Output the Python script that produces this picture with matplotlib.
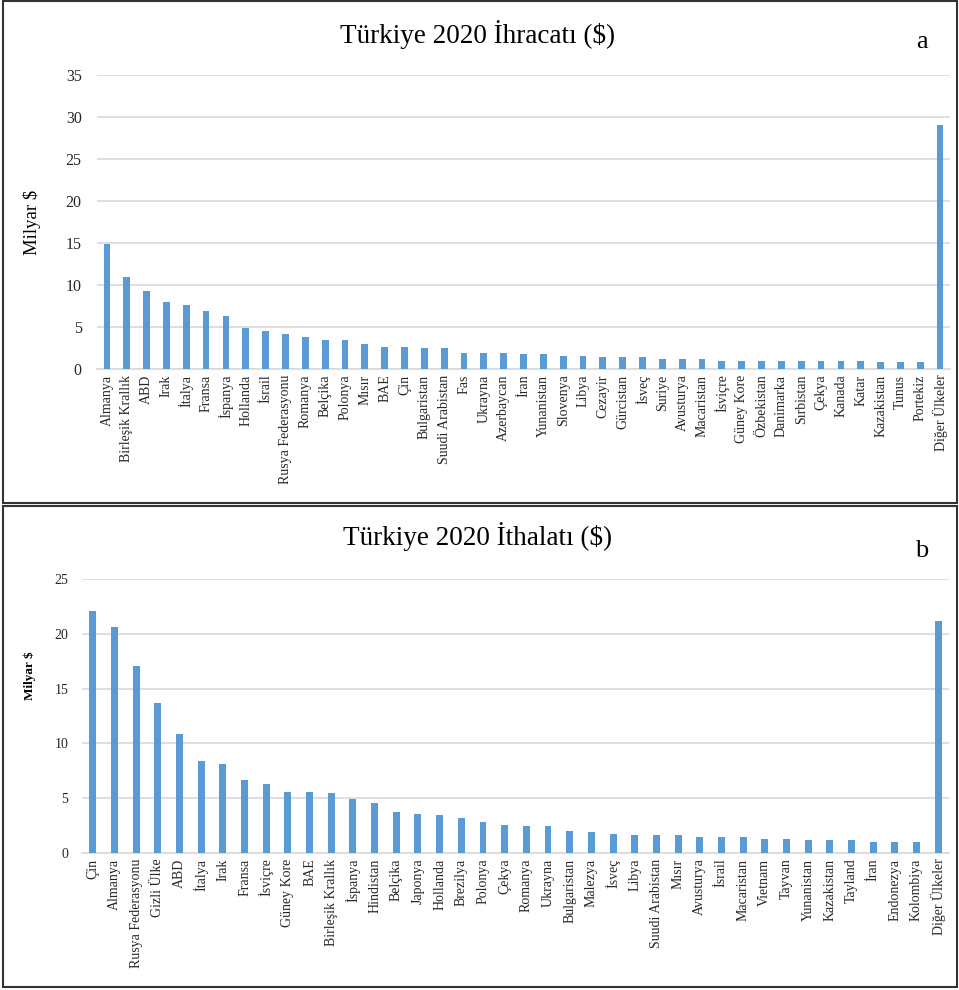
import numpy as np
import matplotlib
matplotlib.use('Agg')
import matplotlib.pyplot as plt
from matplotlib.patches import Rectangle

plt.rcParams['font.family'] = ['Liberation Serif', 'DejaVu Serif']

# Ihracat 2020 (milyar $)
export_countries = [
    'Almanya', 'Birleşik Krallık', 'ABD', 'Irak', 'İtalya', 'Fransa', 'İspanya',
    'Hollanda', 'İsrail', 'Rusya Federasyonu', 'Romanya', 'Belçika', 'Polonya',
    'Mısır', 'BAE', 'Çin', 'Bulgaristan', 'Suudi Arabistan', 'Fas', 'Ukrayna',
    'Azerbaycan', 'İran', 'Yunanistan', 'Slovenya', 'Libya', 'Cezayir',
    'Gürcistan', 'İsveç', 'Suriye', 'Avusturya', 'Macaristan', 'İsviçre',
    'Güney Kore', 'Özbekistan', 'Danimarka', 'Sırbistan', 'Çekya', 'Kanada',
    'Katar', 'Kazakistan', 'Tunus', 'Portekiz', 'Diğer Ülkeler',
]
export_values = [
    14.85, 10.95, 9.3, 7.95, 7.6, 6.85, 6.35, 4.9, 4.5, 4.15, 3.8, 3.4, 3.4,
    3.0, 2.65, 2.65, 2.45, 2.45, 1.9, 1.9, 1.9, 1.75, 1.75, 1.6, 1.6, 1.4,
    1.4, 1.4, 1.2, 1.2, 1.2, 1.0, 1.0, 1.0, 1.0, 1.0, 1.0, 1.0, 1.0, 0.8,
    0.8, 0.8, 29.1,
]

# Ithalat 2020 (milyar $)
import_countries = [
    'Çin', 'Almanya', 'Rusya Federasyonu', 'Gizli Ülke', 'ABD', 'İtalya', 'Irak',
    'Fransa', 'İsviçre', 'Güney Kore', 'BAE', 'Birleşik Krallık', 'İspanya',
    'Hindistan', 'Belçika', 'Japonya', 'Hollanda', 'Brezilya', 'Polonya',
    'Çekya', 'Romanya', 'Ukrayna', 'Bulgaristan', 'Malezya', 'İsveç', 'Libya',
    'Suudi Arabistan', 'Mısır', 'Avusturya', 'İsrail', 'Macaristan', 'Vietnam',
    'Tayvan', 'Yunanistan', 'Kazakistan', 'Tayland', 'İran', 'Endonezya',
    'Kolombiya', 'Diğer Ülkeler',
]
import_values = [
    22.05, 20.6, 17.1, 13.65, 10.85, 8.4, 8.15, 6.7, 6.3, 5.6, 5.6, 5.45, 4.9,
    4.55, 3.7, 3.6, 3.45, 3.15, 2.85, 2.6, 2.45, 2.45, 2.0, 1.9, 1.75, 1.6,
    1.6, 1.6, 1.45, 1.45, 1.45, 1.3, 1.3, 1.15, 1.15, 1.15, 1.0, 1.0, 1.0,
    21.2,
]

BAR_COLOR = '#5B9BD5'
GRID_COLOR = '#D9D9D9'
TEXT_COLOR = '#262626'

W, H = 959, 990
fig = plt.figure(figsize=(W / 100, H / 100), dpi=100)


def px_box(left, right, bottom, top):
    # convert pixel box (image coords) to figure fraction
    return [left / W, 1 - bottom / H, (right - left) / W, (bottom - top) / H]


def draw_panel(ax, names, values, ymax, ystep, ytick_size, xtick_size, width, ypad):
    x = np.arange(len(names))
    ax.bar(x, values, width=width, color=BAR_COLOR, zorder=3)
    ax.set_xlim(-0.5, len(names) - 0.5)
    ax.set_ylim(0, ymax)
    ax.set_yticks(np.arange(0, ymax + 0.1, ystep))
    ax.set_xticks(x)
    ax.set_xticklabels(names, rotation=90, fontsize=xtick_size, color=TEXT_COLOR)
    ax.tick_params(axis='y', labelsize=ytick_size, colors=TEXT_COLOR, length=0, pad=ypad)
    ax.tick_params(axis='x', length=0, pad=4)
    ax.grid(axis='y', color=GRID_COLOR, linewidth=1.2, zorder=0)
    for side in ['top', 'right', 'left']:
        ax.spines[side].set_visible(False)
    ax.spines['bottom'].set_color(GRID_COLOR)
    ax.spines['bottom'].set_linewidth(1.2)


# panel borders
fig.patches.append(Rectangle((3 / W, 1 - 503 / H), 954 / W, 502 / H,
                             transform=fig.transFigure, fill=False,
                             edgecolor='#333333', linewidth=1.5))
fig.patches.append(Rectangle((3 / W, 1 - 987 / H), 954 / W, 481 / H,
                             transform=fig.transFigure, fill=False,
                             edgecolor='#333333', linewidth=1.5))

# a) exports
ax1 = fig.add_axes(px_box(97, 950, 369, 75))
draw_panel(ax1, export_countries, export_values, 35, 5, 11.5, 10, 0.34, 11)
fig.text(478 / W, 1 - 35 / H, 'Türkiye 2020 İhracatı ($)', ha='center', va='center',
         fontsize=19.5, color='black')
fig.text(922 / W, 1 - 42 / H, 'a', ha='center', va='center', fontsize=19, color='black')
fig.text(32 / W, 1 - 222 / H, 'Milyar $', rotation=90, ha='center', va='center',
         fontsize=13.5, color='black')

# b) imports
ax2 = fig.add_axes(px_box(82, 949, 853, 579))
draw_panel(ax2, import_countries, import_values, 25, 5, 10, 10, 0.32, 10)
fig.text(478 / W, 1 - 537 / H, 'Türkiye 2020 İthalatı ($)', ha='center', va='center',
         fontsize=19.5, color='black')
fig.text(922 / W, 1 - 551 / H, 'b', ha='center', va='center', fontsize=19, color='black')
fig.text(30 / W, 1 - 676 / H, 'Milyar $', rotation=90, ha='center', va='center',
         fontsize=9.5, fontweight='bold', color='black')

fig.savefig('out.png', dpi=100)
